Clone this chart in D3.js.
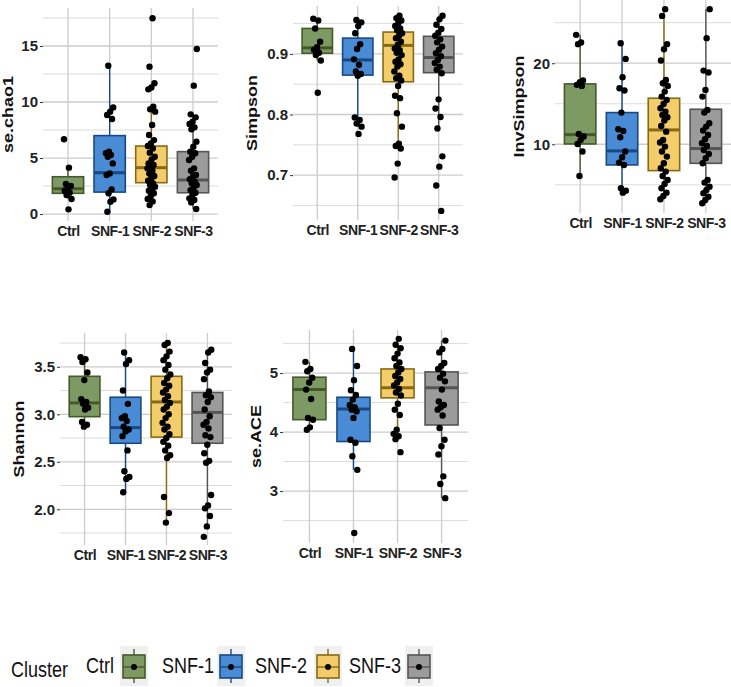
<!DOCTYPE html>
<html>
<head>
<meta charset="utf-8">
<script src="https://cdn.jsdelivr.net/npm/d3@7"></script>
<style>
  body { margin: 0; background: #fff; }
  svg { display: block; font-family: 'Liberation Sans', Arial, sans-serif; }
</style>
</head>
<body>
<svg id="chart" width="731" height="687"></svg>
<script>
const groups = ['Ctrl', 'SNF-1', 'SNF-2', 'SNF-3'];
const fills = ['#7e9a64', '#4a8bd5', '#f3cc6b', '#9b9b9b'];
const strokes = ['#455a29', '#174a85', '#876a12', '#555555'];

// se.chao1
const chao1Pts = [
  [6.67, 4.14, 2.68, 2.5, 2.29, 2.08, 1.9, 1.7, 1.34, 0.42],
  [13.24, 9.52, 9.14, 8.84, 8.48, 5.57, 5.42, 5.27, 5.12, 4.52, 3.63, 3.48, 2.2, 1.85, 1.31, 1.1, 0.2],
  [17.47, 13.15, 11.67, 11.3, 11.13, 9.58, 9.35, 9.14, 7.95, 7.05, 6.6, 6.31, 6.07, 5.86, 5.48, 5.12, 4.88, 4.52, 4.38, 4.23, 4.08, 3.87, 3.63, 3.39, 3.18, 2.98, 2.74, 2.59, 2.44, 2.29, 2.08, 1.85, 1.61, 1.34, 1.13, 0.8],
  [14.73, 11.46, 8.9, 8.63, 8.24, 8.04, 7.74, 7.56, 6.46, 6.01, 5.57, 5.42, 5.12, 4.82, 4.08, 3.87, 3.48, 3.33, 3.1, 2.89, 2.74, 2.59, 2.38, 2.14, 1.9, 1.7, 1.4, 1.25, 1.04, 0.45]
];
// [lower whisker, q1, median, q3, upper whisker]
const chao1Box = [
  [1.34, 1.85, 2.26, 3.33, 4.14],
  [0.2, 1.96, 3.69, 7.0, 13.24],
  [0.8, 2.8, 4.14, 6.07, 9.58],
  [0.45, 1.9, 3.04, 5.57, 8.9]
];
const chao1Ticks = [0, 5, 10, 15];
const chao1Minor = [2.5, 7.5, 12.5, 17.5];

// Simpson
const simpsonPts = [
  [0.958, 0.955, 0.942, 0.92, 0.911, 0.907, 0.902, 0.898, 0.889, 0.836],
  [0.956, 0.952, 0.946, 0.934, 0.916, 0.908, 0.891, 0.882, 0.871, 0.867, 0.864, 0.795, 0.791, 0.785, 0.78, 0.768],
  [0.963, 0.959, 0.955, 0.951, 0.946, 0.942, 0.939, 0.934, 0.93, 0.926, 0.92, 0.915, 0.909, 0.906, 0.902, 0.898, 0.891, 0.887, 0.883, 0.879, 0.871, 0.864, 0.86, 0.856, 0.847, 0.831, 0.827, 0.802, 0.78, 0.752, 0.748, 0.744, 0.719, 0.696],
  [0.963, 0.957, 0.948, 0.941, 0.935, 0.93, 0.924, 0.919, 0.912, 0.907, 0.901, 0.896, 0.89, 0.885, 0.879, 0.874, 0.868, 0.825, 0.81, 0.796, 0.777, 0.731, 0.714, 0.683, 0.641]
];
const simpsonBox = [
  [0.889, 0.901, 0.91, 0.942, 0.958],
  [0.78, 0.865, 0.89, 0.926, 0.956],
  [0.744, 0.854, 0.914, 0.936, 0.963],
  [0.78, 0.869, 0.894, 0.929, 0.963]
];
const simpsonTicks = [0.7, 0.8, 0.9];
const simpsonMinor = [0.65, 0.75, 0.85, 0.95];

// InvSimpson
const invSimpsonPts = [
  [23.5, 22.55, 22.35, 17.86, 17.65, 17.33, 17.2, 11.28, 10.95, 10.53, 10.04, 9.1, 6.09],
  [22.47, 20.53, 18.27, 16.91, 16.63, 13.91, 11.85, 11.65, 10.86, 9.1, 8.4, 7.74, 7.45, 4.57, 4.28, 4.03],
  [26.67, 25.84, 22.35, 21.73, 20.33, 17.94, 17.53, 17.2, 16.5, 15.88, 15.47, 14.98, 14.44, 14.03, 13.62, 13.33, 12.92, 12.26, 11.56, 10.53, 10.21, 9.71, 9.1, 8.48, 7.65, 7.04, 6.63, 6.09, 5.6, 5.1, 4.57, 4.03, 3.62, 3.21],
  [26.67, 23.09, 19.09, 18.85, 16.71, 15.88, 14.24, 13.91, 12.59, 12.18, 11.69, 11.15, 10.62, 10.12, 9.79, 9.3, 8.81, 8.27, 7.65, 5.6, 5.27, 4.77, 4.36, 3.95, 3.54, 3.13, 2.72]
];
const invSimpsonBox = [
  [6.09, 10.04, 11.19, 17.45, 23.5],
  [4.03, 7.45, 9.18, 13.91, 22.47],
  [3.21, 6.75, 11.77, 15.68, 26.67],
  [2.72, 7.65, 9.47, 14.32, 26.67]
];
const invSimpsonTicks = [10, 20];
const invSimpsonMinor = [5, 15, 25];

// Shannon
const shannonPts = [
  [3.6, 3.58, 3.55, 3.44, 3.36, 3.16, 3.13, 3.11, 3.07, 3.05, 2.92, 2.89, 2.87],
  [3.65, 3.57, 3.53, 3.25, 3.11, 2.98, 2.96, 2.93, 2.87, 2.84, 2.82, 2.77, 2.62, 2.4, 2.34, 2.32, 2.18],
  [3.75, 3.73, 3.66, 3.61, 3.57, 3.52, 3.47, 3.42, 3.38, 3.33, 3.3, 3.26, 3.23, 3.19, 3.15, 3.12, 3.08, 3.05, 3.0, 2.96, 2.91, 2.87, 2.84, 2.79, 2.75, 2.71, 2.67, 2.62, 2.57, 2.54, 2.13, 1.96, 1.86],
  [3.68, 3.65, 3.54, 3.47, 3.44, 3.37, 3.24, 3.2, 3.18, 3.13, 3.05, 2.98, 2.92, 2.89, 2.85, 2.78, 2.76, 2.68, 2.59, 2.51, 2.49, 2.15, 2.04, 2.01, 1.93, 1.82, 1.71]
];
const shannonBox = [
  [2.87, 2.975, 3.12, 3.4, 3.6],
  [2.18, 2.695, 2.86, 3.18, 3.65],
  [1.86, 2.76, 3.13, 3.4, 3.75],
  [1.82, 2.695, 3.02, 3.23, 3.68]
];
const shannonTicks = [2.0, 2.5, 3.0, 3.5];
const shannonMinor = [1.75, 2.25, 2.75, 3.25, 3.75];

// se.ACE
const acePts = [
  [5.19, 5.07, 5.03, 4.92, 4.84, 4.72, 4.56, 4.24, 4.21, 4.08, 4.04],
  [5.41, 5.12, 4.88, 4.71, 4.63, 4.55, 4.46, 4.42, 4.38, 4.35, 4.24, 3.87, 3.82, 3.59, 3.36, 2.29],
  [5.58, 5.48, 5.42, 5.33, 5.25, 5.18, 5.12, 5.07, 5.01, 4.95, 4.9, 4.84, 4.79, 4.73, 4.67, 4.62, 4.48, 4.38, 4.29, 4.04, 3.97, 3.93, 3.88, 3.66],
  [5.55, 5.41, 5.35, 5.17, 5.12, 5.07, 4.99, 4.92, 4.86, 4.72, 4.52, 4.46, 4.42, 4.38, 4.28, 4.07, 3.87, 3.76, 3.62, 3.25, 3.12, 2.88]
];
const aceBox = [
  [4.04, 4.21, 4.72, 4.93, 5.19],
  [3.36, 3.84, 4.39, 4.59, 5.41],
  [3.88, 4.58, 4.75, 5.07, 5.58],
  [2.88, 4.12, 4.75, 5.02, 5.55]
];
const aceTicks = [3, 4, 5];
const aceMinor = [2.5, 3.5, 4.5, 5.5];

const svg = d3.select('#chart');

const panels = [
  { title: 'se.chao1', pts: chao1Pts, box: chao1Box, ticks: chao1Ticks, minor: chao1Minor,
    fmt: d3.format('d'), x0: 43, x1: 218, y0: 8, y1: 221, dom: [-0.62, 18.39], titleX: 8 },
  { title: 'Simpson', pts: simpsonPts, box: simpsonBox, ticks: simpsonTicks, minor: simpsonMinor,
    fmt: d3.format('.1f'), x0: 293, x1: 463, y0: 6, y1: 220, dom: [0.626, 0.979], titleX: 252 },
  { title: 'InvSimpson', pts: invSimpsonPts, box: invSimpsonBox, ticks: invSimpsonTicks, minor: invSimpsonMinor,
    fmt: d3.format('d'), x0: 555, x1: 731, y0: 0, y1: 213, dom: [1.52, 27.8], titleX: 519 },
  { title: 'Shannon', pts: shannonPts, box: shannonBox, ticks: shannonTicks, minor: shannonMinor,
    fmt: d3.format('.1f'), x0: 60, x1: 232, y0: 333, y1: 545, dom: [1.624, 3.856], titleX: 19 },
  { title: 'se.ACE', pts: acePts, box: aceBox, ticks: aceTicks, minor: aceMinor,
    fmt: d3.format('d'), x0: 283, x1: 468, y0: 330, y1: 543, dom: [2.12, 5.73], titleX: 256 }
];

// small fixed jitter pattern (golden-ratio sequence), not data
const jitter = i => (((i * 0.6180339) % 1) - 0.5) * 8;

panels.forEach(p => {
  const g = svg.append('g');
  const x = d3.scalePoint().domain(groups).range([p.x0, p.x1]).padding(0.6);
  const y = d3.scaleLinear().domain(p.dom).range([p.y1, p.y0]);
  const bw = x.step() * 0.75;

  // grid
  g.selectAll('.minor').data(p.minor.filter(v => v > p.dom[0] && v < p.dom[1])).enter()
    .append('line')
    .attr('x1', p.x0).attr('x2', p.x1)
    .attr('y1', d => y(d)).attr('y2', d => y(d))
    .attr('stroke', '#dcdcdc').attr('stroke-width', 1);
  g.selectAll('.major').data(p.ticks).enter()
    .append('line')
    .attr('x1', p.x0).attr('x2', p.x1)
    .attr('y1', d => y(d)).attr('y2', d => y(d))
    .attr('stroke', '#cccccc').attr('stroke-width', 1.3);
  g.selectAll('.vgrid').data(groups).enter()
    .append('line')
    .attr('x1', d => x(d)).attr('x2', d => x(d))
    .attr('y1', p.y0).attr('y2', p.y1)
    .attr('stroke', '#cccccc').attr('stroke-width', 1.3);

  // y axis
  const ya = g.append('g')
    .attr('transform', `translate(${p.x0},0)`)
    .call(d3.axisLeft(y).tickValues(p.ticks).tickFormat(p.fmt).tickSize(3).tickPadding(2));
  ya.select('.domain').remove();
  ya.selectAll('line').attr('stroke', '#333');
  ya.selectAll('text').attr('font-size', 15).attr('font-weight', 'bold').attr('fill', '#222')
    .attr('font-family', "'Liberation Sans', Arial, sans-serif");

  // x axis
  const xa = g.append('g')
    .attr('transform', `translate(0,${p.y1})`)
    .call(d3.axisBottom(x).tickSize(0).tickPadding(5));
  xa.select('.domain').remove();
  xa.selectAll('text').attr('font-size', 14).attr('font-weight', 'bold').attr('fill', '#222')
    .attr('letter-spacing', '-0.4px')
    .attr('font-family', "'Liberation Sans', Arial, sans-serif");

  // title (glyphs narrowed across the rotated baseline, as in the reference)
  g.append('text')
    .attr('transform', `translate(${p.titleX},${(p.y0 + p.y1) / 2}) rotate(-90) scale(1,0.8)`)
    .attr('text-anchor', 'middle').attr('dominant-baseline', 'central')
    .attr('font-size', 18).attr('font-weight', 'bold').attr('fill', '#111')
    .text(p.title);

  // boxes
  const bx = g.selectAll('.box').data(p.box).enter().append('g');
  bx.append('line')
    .attr('x1', (d, i) => x(groups[i])).attr('x2', (d, i) => x(groups[i]))
    .attr('y1', d => y(d[0])).attr('y2', d => y(d[4]))
    .attr('stroke', (d, i) => strokes[i]).attr('stroke-width', 1.4);
  bx.append('rect')
    .attr('x', (d, i) => x(groups[i]) - bw / 2).attr('width', bw)
    .attr('y', d => y(d[3])).attr('height', d => y(d[1]) - y(d[3]))
    .attr('fill', (d, i) => fills[i]).attr('stroke', (d, i) => strokes[i]).attr('stroke-width', 1.6);
  bx.append('line')
    .attr('x1', (d, i) => x(groups[i]) - bw / 2).attr('x2', (d, i) => x(groups[i]) + bw / 2)
    .attr('y1', d => y(d[2])).attr('y2', d => y(d[2]))
    .attr('stroke', (d, i) => strokes[i]).attr('stroke-width', 3);

  // points
  p.pts.forEach((vals, gi) => {
    g.selectAll(null).data(vals).enter()
      .append('circle')
      .attr('cx', (d, i) => x(groups[gi]) + jitter(i + gi * 7))
      .attr('cy', d => y(d))
      .attr('r', 3.2)
      .attr('fill', '#000');
  });
});

// legend
const lg = svg.append('g');
lg.append('text').attr('x', 11).attr('y', 677)
  .attr('transform', 'translate(11,0) scale(0.82,1) translate(-11,0)')
  .attr('font-size', 22).attr('fill', '#111').text('Cluster');
const legX = [86, 162, 255, 349];
const keyX = [120, 217, 314, 405];
groups.forEach((gname, i) => {
  lg.append('text').attr('x', legX[i]).attr('y', 673)
    .attr('transform', `translate(${legX[i]},0) scale(0.82,1) translate(${-legX[i]},0)`)
    .attr('font-size', 22).attr('fill', '#111').text(gname);
  const k = lg.append('g').attr('transform', `translate(${keyX[i]},646)`);
  k.append('rect').attr('width', 28).attr('height', 40).attr('fill', '#f0f0f0');
  k.append('line').attr('x1', 14).attr('x2', 14).attr('y1', 3).attr('y2', 37)
    .attr('stroke', strokes[i]).attr('stroke-width', 1.4);
  k.append('rect').attr('x', 3).attr('y', 9).attr('width', 22).attr('height', 23)
    .attr('fill', fills[i]).attr('stroke', strokes[i]).attr('stroke-width', 1.6);
  k.append('line').attr('x1', 3).attr('x2', 25).attr('y1', 21).attr('y2', 21)
    .attr('stroke', strokes[i]).attr('stroke-width', 1.4);
  k.append('circle').attr('cx', 14).attr('cy', 21).attr('r', 3).attr('fill', '#000');
});
</script>
</body>
</html>
